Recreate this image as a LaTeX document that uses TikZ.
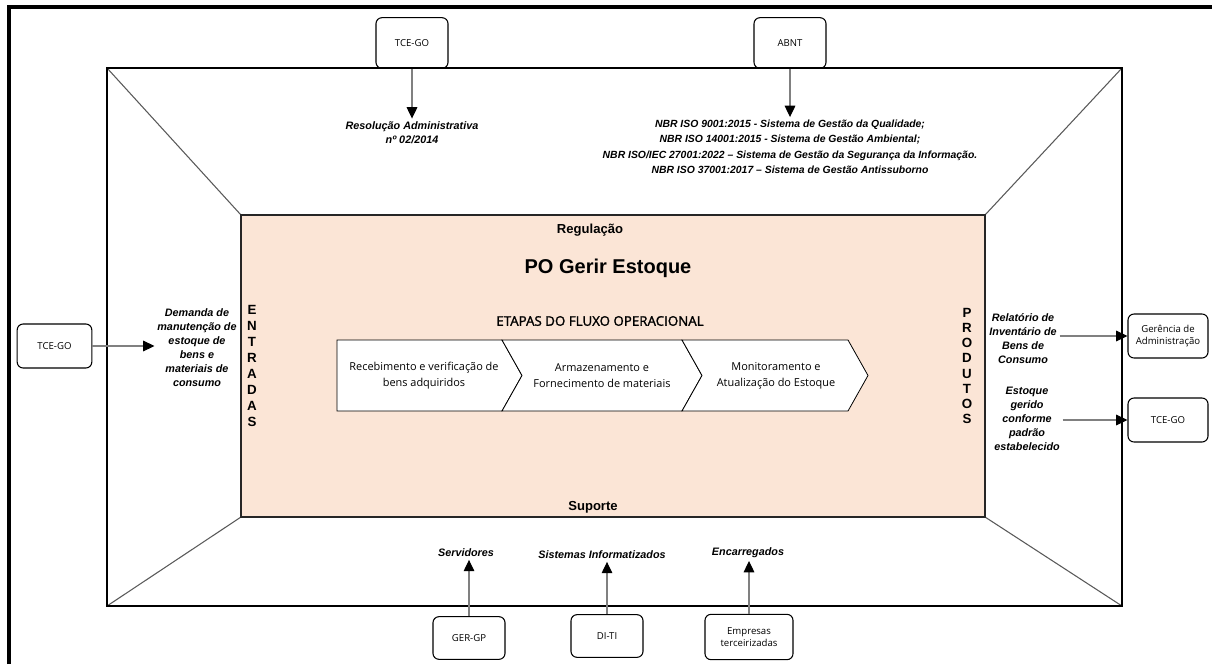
\documentclass[tikz,border=0pt]{standalone}
\usepackage{fontspec}
\setmainfont{Liberation Sans}
\newfontfamily\boxfont{Open Sans}
\newfontfamily\headfont[FakeBold=1.6]{Open Sans}
\usepackage{tikz}
\usetikzlibrary{arrows.meta,positioning,calc}
\definecolor{peach}{RGB}{251,229,214}

\begin{document}
\begin{tikzpicture}[x=0.75pt, y=-0.75pt,
    every node/.style={font=\footnotesize},
    srcbox/.style={draw, rounded corners=4.5pt, line width=0.8pt, align=center,
        inner sep=1pt, font=\boxfont\fontsize{7.2}{9.5}\selectfont},
    lbl/.style={align=center, inner sep=2pt, font=\bfseries\itshape\fontsize{8.1}{10.5}\selectfont},
    stagetxt/.style={align=center, font=\boxfont\fontsize{8.2}{12}\selectfont},
    flow/.style={draw=gray, line width=0.8pt, -{Triangle[length=8.5pt,width=8pt,color=black]}}]
        \useasboundingbox (0,0) rectangle (1212,664);
        % Frames
        \draw[line width=2.6pt] (9,664) -- (9,7) -- (1212,7);
        \draw[gray!70!black, line width=0.8pt] (107,68) -- (241,215);
        \draw[gray!70!black, line width=0.8pt] (1122,68) -- (985,215);
        \draw[gray!70!black, line width=0.8pt] (107,606) -- (241,517);
        \draw[gray!70!black, line width=0.8pt] (1122,606) -- (985,517);
        \draw[line width=2.2pt] (107,68) rectangle (1122,606);
        \filldraw[fill=peach, draw=black!85, line width=1.3pt] (241,215) rectangle (985,517);
        % Process
        \node[font=\bfseries\fontsize{9.8}{12}\selectfont] (regulacao) at (590,230) {Regulação};
        \node[font=\bfseries\fontsize{15}{18}\selectfont] (titulo) at (608,268) {PO Gerir Estoque};
        \node[font=\headfont\fontsize{10}{12}\selectfont] (etapas) at (600,321) {ETAPAS DO FLUXO OPERACIONAL};
        \node[font=\bfseries\fontsize{9.8}{12}\selectfont] (suporte) at (593,507) {Suporte};
        % Stages
        \draw[fill=white, line width=0.6pt] (337,340) -- (502,340) -- (522,375.5) -- (502,411) -- (337,411) -- cycle;
        \foreach \xa/\xb in {502/682, 682/848}
            \draw[fill=white, line width=0.6pt] (\xa,340) -- (\xb,340) -- (\xb+20,375.5) -- (\xb,411) -- (\xa,411) -- (\xa+20,375.5) -- cycle;
        \node[stagetxt] (etapaA) at (424,375.5) {Recebimento e verificação de\\bens adquiridos};
        \node[stagetxt] (etapaB) at (602,375.5) {Armazenamento e\\Fornecimento de materiais};
        \node[stagetxt] (etapaC) at (776,375.5) {Monitoramento e\\Atualização do Estoque};
        % Side letters
        \node[align=center, inner sep=0, font=\bfseries\fontsize{10}{12}\selectfont] (entradas) at (252,366) {E\\N\\T\\R\\A\\D\\A\\S};
        \node[align=center, inner sep=0, font=\bfseries\fontsize{10}{11.3}\selectfont] (produtos) at (967,366) {P\\R\\O\\D\\U\\T\\O\\S};
        % Regulation
        \node[srcbox, minimum width=54pt, minimum height=38pt] (tceTop) at (412,43) {TCE-GO};
        \node[srcbox, minimum width=54pt, minimum height=38pt] (abnt) at (790,43) {ABNT};
        \node[lbl] (resolucao) at (412,132.5) {Resolução Administrativa\\nº 02/2014};
        \node[lbl, font=\bfseries\itshape\fontsize{7.8}{11.6}\selectfont] (normas) at (790,147) {NBR ISO 9001:2015 - Sistema de Gestão da Qualidade;\\NBR ISO 14001:2015 - Sistema de Gestão Ambiental;\\NBR ISO/IEC 27001:2022 – Sistema de Gestão da Segurança da Informação.\\NBR ISO 37001:2017 – Sistema de Gestão Antissuborno};
        \draw[flow] (tceTop) -- (resolucao);
        \draw[flow] (abnt) -- (normas);
        % Inputs
        \node[srcbox, minimum width=56pt, minimum height=33pt] (tceLeft) at (54.5,346) {TCE-GO};
        \node[lbl] (demanda) at (197,348) {Demanda de\\manutenção de\\estoque de\\bens e\\materiais de\\consumo};
        \draw[flow] (tceLeft.east) -- (tceLeft.east -| demanda.west);
        % Outputs
        \node[srcbox, minimum width=60pt, minimum height=33pt] (gerencia) at (1168,336) {Gerência de\\Administração};
        \node[srcbox, minimum width=60pt, minimum height=33pt] (tceRight) at (1168,420) {TCE-GO};
        \node[lbl] (relatorio) at (1023,339) {Relatório de\\Inventário de\\Bens de\\Consumo};
        \node[lbl] (estoque) at (1027,419) {Estoque\\gerido\\conforme\\padrão\\estabelecido};
        \draw[flow] (relatorio.east |- gerencia) -- (gerencia.west);
        \draw[flow] (estoque.east |- tceRight) -- (tceRight.west);
        % Support
        \node[lbl] (servidores) at (466,553) {Servidores};
        \node[lbl] (sistemas) at (602,555) {Sistemas Informatizados};
        \node[lbl] (encarregados) at (748,553) {Encarregados};
        \node[srcbox, minimum width=54pt, minimum height=32pt] (gerGP) at (469,638) {GER-GP};
        \node[srcbox, minimum width=54pt, minimum height=32pt] (diTI) at (607,636) {DI-TI};
        \node[srcbox, minimum width=66pt, minimum height=34pt] (empresas) at (749,637) {Empresas\\terceirizadas};
        \draw[flow] (gerGP.north) -- (gerGP.north |- servidores.south);
        \draw[flow] (diTI.north) -- (diTI.north |- sistemas.south);
        \draw[flow] (empresas.north) -- (empresas.north |- encarregados.south);
    \end{tikzpicture}
\end{document}
